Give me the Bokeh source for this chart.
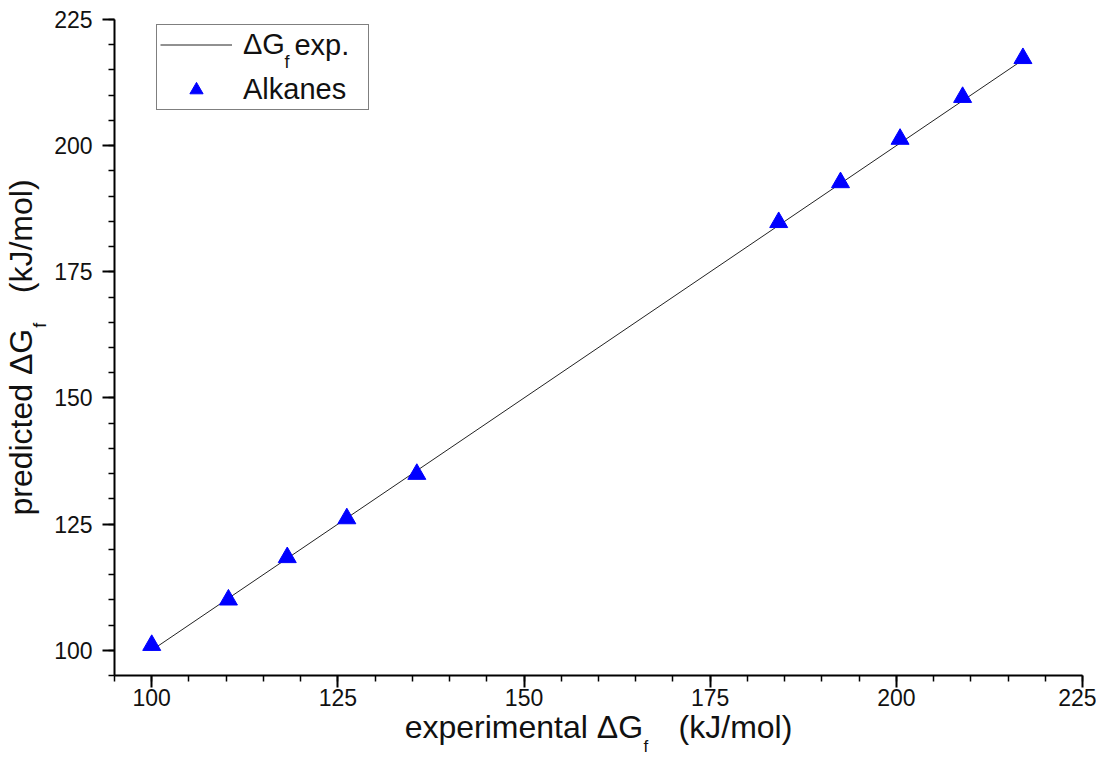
import math
from bokeh.plotting import figure
from bokeh.models import Label, Legend, LegendItem, SingleIntervalTicker, Range1d
from bokeh.embed import file_html
from bokeh.resources import INLINE

# ---- data ----
exp_dg = [100.0, 110.3, 118.2, 126.2, 135.6, 184.2, 192.5, 200.5, 208.9, 217.0]
pred_dg = [101.0, 110.0, 118.4, 126.1, 134.9, 184.8, 192.7, 201.3, 209.6, 217.3]
line_label = "ΔG"
line_label_sub = "f"
line_label_rest = "exp."
series_label = "Alkanes"
x_title = ["experimental ΔG", "f", "(kJ/mol)"]
y_title = ["predicted ΔG", "f", "(kJ/mol)"]
axis_range = (95, 225)
major_interval = 25

FONT = "Liberation Sans"
TXT = "#111111"
NB = "\u00a0"

# Arial / Liberation Sans advance widths (em)
W = {'e': .556, 'x': .5, 'p': .556, 'r': .333, 'i': .222, 'm': .833, 'n': .556,
     't': .278, 'a': .556, 'l': .222, ' ': .278, NB: .278, 'Δ': .668, 'G': .778,
     'd': .556, 'c': .5, '(': .333, ')': .333, 'k': .5, 'J': .5, '/': .278,
     'o': .556, '.': .278, 'f': .278, 'A': .667, 's': .5}


def tw(s, size):
    return sum(W.get(ch, .556) for ch in s) * size


FW, FH = 969, 656
ML, MT = 113, 19
WIDTH, HEIGHT = 1096, 752
TICK_FS, TITLE_FS, SUB_FS, LEG_FS = 23, 32, 17, 29
GAP = NB * 4

p = figure(width=WIDTH, height=HEIGHT,
           x_range=Range1d(*axis_range), y_range=Range1d(*axis_range),
           output_backend="svg", toolbar_location=None,
           min_border_left=ML, min_border_right=WIDTH - ML - FW,
           min_border_top=MT, min_border_bottom=HEIGHT - MT - FH)
p.outline_line_color = None
p.grid.visible = False
p.background_fill_color = "white"
p.border_fill_color = "white"

for ax in (p.xaxis[0], p.yaxis[0]):
    ax.ticker = SingleIntervalTicker(interval=major_interval, num_minor_ticks=5)
    ax.axis_line_width = 2
    ax.axis_line_color = "black"
    ax.major_tick_line_width = 2
    ax.minor_tick_line_width = 1.5
    ax.major_tick_line_color = "black"
    ax.minor_tick_line_color = "black"
    ax.major_tick_in = 0
    ax.major_tick_out = 12
    ax.minor_tick_in = 0
    ax.minor_tick_out = 6
    ax.major_label_text_font = FONT
    ax.major_label_text_font_size = f"{TICK_FS}px"
    ax.major_label_text_color = TXT
    ax.axis_label_text_font = FONT
    ax.axis_label_text_font_size = f"{TITLE_FS}px"
    ax.axis_label_text_font_style = "normal"
    ax.axis_label_text_color = TXT

XLS, YLS, XTS, YTS = 1, 10, 0, 12
p.xaxis.major_label_standoff = XLS
p.yaxis.major_label_standoff = YLS
p.xaxis.axis_label = x_title[0] + GAP + x_title[2]
p.yaxis.axis_label = y_title[0] + GAP + y_title[2]
p.xaxis.axis_label_standoff = XTS
p.yaxis.axis_label_standoff = YTS

line_r = p.line(exp_dg, exp_dg, line_color="#222222", line_width=1)
pts = p.scatter(exp_dg, pred_dg, marker="triangle", size=18,
                fill_color="#0000ff", line_color="#0000ff")

# ---- legend ----
lg_x, lg_top, lg_h = 42, 6, 85
pad, gw, standoff = 3, 72, 11
legend = Legend(items=[LegendItem(label=line_label, renderers=[line_r]),
                       LegendItem(label=series_label, renderers=[pts])],
                location=(lg_x, FH - lg_top - lg_h), margin=0, padding=pad,
                spacing=12, glyph_width=gw, glyph_height=33, label_height=33,
                label_width=122, label_standoff=standoff, label_text_font=FONT,
                label_text_font_size=f"{LEG_FS}px", label_text_color=TXT,
                label_text_baseline="middle",
                border_line_color="black", border_line_width=1,
                background_fill_color="white", background_fill_alpha=0)
p.add_layout(legend)

row1_y = FH - lg_top - pad - 16.5
lbl_x0 = lg_x + pad + gw + standoff
g_end = lbl_x0 + tw(line_label, LEG_FS) - 1
p.add_layout(Label(x=g_end + 1, y=row1_y - 17, x_units="screen", y_units="screen",
                   text=line_label_sub, text_font=FONT, text_font_size="18px",
                   text_color=TXT, text_baseline="alphabetic", level="overlay"))
p.add_layout(Label(x=g_end + 1 + tw("f", 18) + 5, y=row1_y, x_units="screen",
                   y_units="screen", text=line_label_rest, text_font=FONT,
                   text_font_size=f"{LEG_FS}px", text_color=TXT,
                   text_baseline="middle", level="overlay"))

# ---- subscripts of the axis titles (canvas pixels, placed in side panels) ----
asc, desc, lh = 0.905, 0.212, 1.117
# x title
x_total = tw(p.xaxis.axis_label, TITLE_FS)
x_start = ML + FW / 2 - x_total / 2
x_gend = x_start + tw(x_title[0], TITLE_FS)
x_base = MT + FH + 12 + XLS + lh * TICK_FS + XTS + asc * TITLE_FS
p.add_layout(Label(x=x_gend + 1, y=min(x_base + 4, HEIGHT - 6), x_units="canvas",
                   y_units="canvas", text=x_title[1], text_font=FONT,
                   text_font_size=f"{SUB_FS}px", text_color=TXT,
                   text_baseline="alphabetic", text_align="left"),
             "right")
# y title
y_total = tw(p.yaxis.axis_label, TITLE_FS)
y_start = MT + FH / 2 + y_total / 2
y_gend = y_start - tw(y_title[0], TITLE_FS)
y_base = ML - 12 - YLS - 3 * 0.556 * TICK_FS - YTS - desc * TITLE_FS
p.add_layout(Label(x=y_base + 6, y=y_gend - 1, x_units="canvas", y_units="canvas",
                   text=y_title[1], angle=math.pi / 2, text_font=FONT,
                   text_font_size="18px", text_color=TXT,
                   text_baseline="alphabetic", text_align="left"),
             "above")

open("out.html", "w").write(file_html(p, INLINE))
